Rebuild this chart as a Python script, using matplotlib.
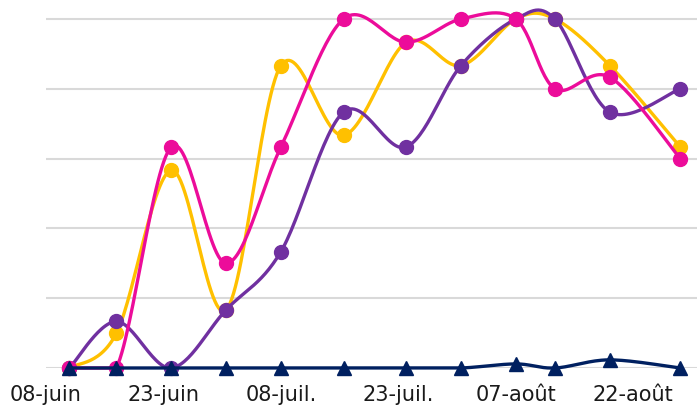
import numpy as np
import pandas as pd
import matplotlib
matplotlib.use("Agg")
import matplotlib.pyplot as plt
import matplotlib.dates as mdates

# === Data ===
dates = pd.to_datetime([
    "2020-06-11", "2020-06-17", "2020-06-24", "2020-07-01", "2020-07-08", "2020-07-16",
    "2020-07-24", "2020-07-31", "2020-08-07", "2020-08-12", "2020-08-19", "2020-08-28",
])
yellow = [0, 3, 17, 5, 26, 20, 28, 26, 30, 30, 26, 19]
pink = [0, 0, 19, 9, 19, 30, 28, 30, 30, 24, 25, 18]
purple = [0, 4, 0, 5, 10, 22, 19, 26, 30, 30, 22, 24]
navy = [0, 0, 0, 0, 0, 0, 0, 0, 0.35, 0, 0.7, 0]

tick_dates = pd.to_datetime(["2020-06-08", "2020-06-23", "2020-07-08",
                             "2020-07-23", "2020-08-07", "2020-08-22"])
tick_labels = ["08-juin", "23-juin", "08-juil.", "23-juil.", "07-août", "22-août"]


def smooth(x, y, n=30):
    # Catmull-Rom style smoothing, similar to spreadsheet "smoothed line"
    x = np.asarray(x, float)
    y = np.asarray(y, float)
    px = np.concatenate([[x[0]], x, [x[-1]]])
    py = np.concatenate([[y[0]], y, [y[-1]]])
    xs, ys = [], []
    t = np.linspace(0, 1, n)
    for i in range(1, len(px) - 2):
        p0 = np.array([px[i], py[i]])
        p3 = np.array([px[i + 1], py[i + 1]])
        c1 = p0 + (np.array([px[i + 1], py[i + 1]]) - np.array([px[i - 1], py[i - 1]])) / 6
        c2 = p3 - (np.array([px[i + 2], py[i + 2]]) - np.array([px[i], py[i]])) / 6
        b = ((1 - t) ** 3)[:, None] * p0 + (3 * (1 - t) ** 2 * t)[:, None] * c1 \
            + (3 * (1 - t) * t ** 2)[:, None] * c2 + (t ** 3)[:, None] * p3
        xs.append(b[:, 0])
        ys.append(b[:, 1])
    # no dips below the baseline
    return np.concatenate(xs), np.maximum(np.concatenate(ys), 0)


# === Plot ===
fig = plt.figure(figsize=(6.97, 4.12), dpi=100)
ax = fig.add_axes([46 / 697, 44 / 412, 651 / 697, 368 / 412])

xnum = mdates.date2num(dates)
series = [
    (yellow, "#FFC000", "o"),
    (purple, "#7030A0", "o"),
    (pink, "#EC0C9A", "o"),
    (navy, "#002060", "^"),
]
for vals, col, mk in series:
    sx, sy = smooth(xnum, vals)
    ax.plot(sx, sy, color=col, lw=2.4, clip_on=False, solid_capstyle="round")
    ax.plot(xnum, vals, ls="none", marker=mk, color=col, ms=10 if mk == "o" else 9.5,
            clip_on=False)

x0 = mdates.date2num(pd.Timestamp("2020-06-08"))
ax.set_xlim(x0, x0 + 651 / 7.83)
ax.set_ylim(0, 30 * 368 / 349)
ax.set_yticks([0, 6, 12, 18, 24, 30])
ax.set_yticklabels([])
ax.yaxis.grid(True, color="#D9D9D9", lw=1.5)
ax.set_axisbelow(True)
ax.tick_params(axis="y", length=0)
ax.set_xticks(mdates.date2num(tick_dates))
ax.set_xticklabels(tick_labels, fontsize=15, color="#1a1a1a")
ax.tick_params(axis="x", length=0, pad=12)
for s in ax.spines.values():
    s.set_visible(False)

fig.savefig("out.png", dpi=100)
